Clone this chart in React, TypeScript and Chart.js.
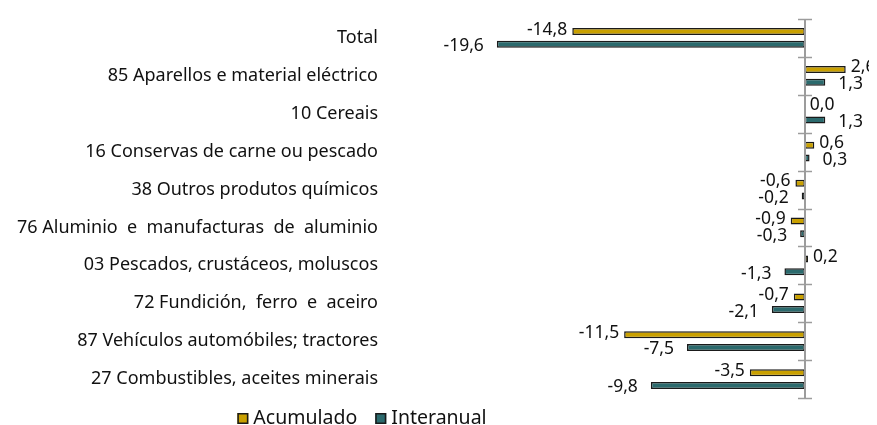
import React, { useEffect, useRef } from "react";
import { Chart, registerables } from "chart.js";

Chart.register(...registerables);

const categories = [
  "Total",
  "85 Aparellos e material eléctrico",
  "10 Cereais",
  "16 Conservas de carne ou pescado",
  "38 Outros produtos químicos",
  "76 Aluminio  e  manufacturas  de  aluminio",
  "03 Pescados, crustáceos, moluscos",
  "72 Fundición,  ferro  e  aceiro",
  "87 Vehículos automóbiles; tractores",
  "27 Combustibles, aceites minerais",
];
const acumulado = [-14.8, 2.6, 0.0, 0.6, -0.6, -0.9, 0.2, -0.7, -11.5, -3.5];
const interanual = [-19.6, 1.3, 1.3, 0.3, -0.2, -0.3, -1.3, -2.1, -7.5, -9.8];
const seriesNames = ["Acumulado", "Interanual"];
const seriesColors = ["#C9A000", "#2B6A6D"];

const FONT = "'Noto Sans', sans-serif";

const fmt = (v: number) => v.toFixed(1).replace(".", ",");

const zeroAxisPlugin = {
  id: "zeroAxis",
  afterDatasetsDraw(chart: any) {
    const { ctx } = chart;
    const xs = chart.scales.x;
    const ys = chart.scales.y;
    const x0 = Math.round(xs.getPixelForValue(0));
    ctx.save();
    ctx.strokeStyle = "#9c9c9c";
    ctx.lineWidth = 2;
    ctx.beginPath();
    ctx.moveTo(x0, ys.top);
    ctx.lineTo(x0, ys.bottom);
    ctx.stroke();
    const n = ys.ticks.length;
    const step = (ys.bottom - ys.top) / n;
    ctx.lineWidth = 1.5;
    for (let i = 0; i <= n; i++) {
      const y = Math.round(ys.top + i * step) + 0.5;
      ctx.beginPath();
      ctx.moveTo(x0 - 7, y);
      ctx.lineTo(x0 + 7, y);
      ctx.stroke();
    }
    ctx.restore();
  },
};

const valueLabelPlugin = {
  id: "valueLabels",
  afterDatasetsDraw(chart: any) {
    const { ctx } = chart;
    ctx.save();
    ctx.font = `17.5px ${FONT}`;
    ctx.fillStyle = "#111";
    ctx.textBaseline = "middle";
    chart.data.datasets.forEach((ds: any, di: number) => {
      const meta = chart.getDatasetMeta(di);
      const gap = di === 0 ? 5 : 13;
      const dy = di === 0 ? -2 : 2;
      meta.data.forEach((bar: any, i: number) => {
        const v = ds.data[i];
        const neg = v < 0;
        ctx.textAlign = neg ? "right" : "left";
        const x = neg ? bar.x - gap : Math.max(bar.x, bar.base) + gap;
        ctx.fillText(fmt(v), x, bar.y + dy);
      });
    });
    ctx.restore();
  },
};

const legendPlugin = {
  id: "customLegend",
  afterDraw(chart: any) {
    const { ctx } = chart;
    ctx.save();
    ctx.font = `19.5px ${FONT}`;
    ctx.textBaseline = "alphabetic";
    ctx.textAlign = "left";
    const box = 11;
    const boxGap = 5;
    const itemGap = 18;
    const ds = chart.data.datasets;
    let total = 0;
    ds.forEach((d: any, i: number) => {
      total += box + boxGap + ctx.measureText(d.label).width;
      if (i < ds.length - 1) total += itemGap;
    });
    const centerX = 354;
    const baseY = chart.height - 1;
    let x = centerX - total / 2;
    ds.forEach((d: any) => {
      ctx.fillStyle = d.backgroundColor;
      ctx.strokeStyle = "#1a1a1a";
      ctx.lineWidth = 1.5;
      ctx.fillRect(x, baseY - 11, box, box);
      ctx.strokeRect(x + 0.75, baseY - 11 + 0.75, box - 1.5, box - 1.5);
      x += box + boxGap;
      ctx.fillStyle = "#111";
      ctx.fillText(d.label, x, baseY);
      x += ctx.measureText(d.label).width + itemGap;
    });
    ctx.restore();
  },
};

export default function App() {
  const ref = useRef<HTMLCanvasElement | null>(null);
  useEffect(() => {
    document.body.style.overflow = "hidden";
    if (!ref.current) return;
    const chart = new Chart(ref.current, {
      type: "bar",
      data: {
        labels: categories,
        datasets: [
          {
            label: seriesNames[0],
            data: acumulado,
            backgroundColor: seriesColors[0],
            borderColor: "#1a1a1a",
            borderWidth: 1.5,
            borderSkipped: false,
            categoryPercentage: 0.67,
            barPercentage: 0.55,
          },
          {
            label: seriesNames[1],
            data: interanual,
            backgroundColor: seriesColors[1],
            borderColor: "#1a1a1a",
            borderWidth: 1.5,
            borderSkipped: false,
            categoryPercentage: 0.67,
            barPercentage: 0.55,
          },
        ],
      },
      options: {
        indexAxis: "y",
        animation: false,
        responsive: true,
        maintainAspectRatio: false,
        layout: { padding: { top: 11, right: 25, bottom: 27, left: 0 } },
        plugins: {
          legend: { display: false },
          tooltip: { enabled: false },
        },
        scales: {
          x: { display: false, min: -25, max: 3 },
          y: {
            grid: { display: false, drawTicks: false },
            border: { display: false },
            ticks: {
              autoSkip: false,
              padding: 34,
              color: "#111",
              font: { family: FONT, size: 18 },
            },
            afterFit(scale: any) {
              scale.width = 404;
              scale.paddingTop = 0;
              scale.paddingBottom = 0;
            },
          },
        },
      },
      plugins: [zeroAxisPlugin, valueLabelPlugin, legendPlugin],
    });
    return () => chart.destroy();
  }, []);
  return (
    <div style={{ position: "relative", height: "417px", width: "869px" }}>
      <canvas ref={ref} />
    </div>
  );
}
